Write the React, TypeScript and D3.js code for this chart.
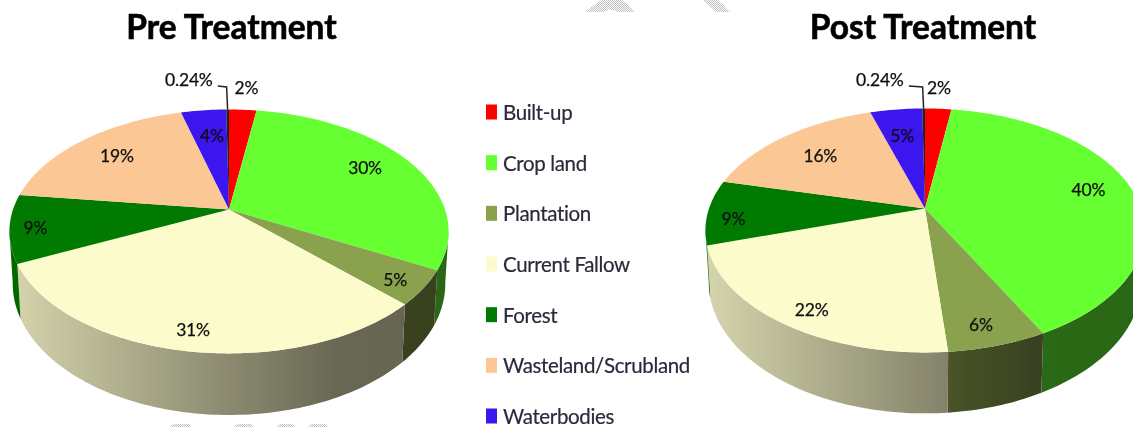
import { useMemo } from 'react';
import * as d3 from 'd3';

const WIDTH = 1133;
const HEIGHT = 427;

const categories = ['Built-up', 'Crop land', 'Plantation', 'Current Fallow', 'Forest', 'Wasteland/Scrubland', 'Waterbodies'];
const colors = ['#FF0000', '#66FF33', '#8AA24E', '#FCFBCC', '#007A00', '#FBC795', '#3A12EE', '#222222'];

// last value is the unnamed 0.24% sliver, it has no legend entry
const preValues = [2.4, 30.4, 4.6, 30.6, 9, 18.8, 3.96, 0.24];
const postValues = [2.3, 40.1, 6.2, 21.6, 8.6, 16.4, 4.56, 0.24];

// label nudges from the default spot inside each slice
const preNudges = [[6, -40], [-9, -2], [14, 9], [-2, 12], [-19, 3], [7, 3], [4, 8], [-39, -47]];
const postNudges = [[3, -39], [-3, -4], [0, 11], [-4, 12], [-18, 7], [10, 6], [1, 9], [-44, -46]];

// bits of the page watermark that show through at the edges
const watermarkPaths = [
  'M585,12 L598,2 L602,0 L622,0 L628,5 L635,12 L618,12 L610,9 L603,12 Z',
  'M703,0 L718,0 L730,12 L716,12 Z',
  'M170,427 L173,424 L189,424 L191,427 Z',
  'M234,427 L237,424 L251,424 L254,427 Z',
  'M277,427 L279,424 L292,424 L295,427 Z',
  'M308,427 L311,424 L326,424 L328,427 Z',
];

const FONT = 'Lato, "Open Sans", sans-serif';

// perspective of the tilted disc
const RX = 216;
const RY = 118;
const TILT = 0.18;
const BOTTOM_SCALE = 0.985;
const WALL_FROM = (100 * Math.PI) / 180;
const WALL_TO = (260 * Math.PI) / 180;

const wallShade: [number, number][] = [[0, 0.85], [0.25, 0.7], [0.5, 0.55], [0.75, 0.41], [1, 0.4]];

const pieLayout = d3.pie<number>().sort(null).startAngle(0).endAngle(2 * Math.PI);
const labelFormat = (v: number) => (v < 1 ? d3.format('.2f')(v) : d3.format('.0f')(v)) + '%';

function makeProjection(cx: number, cy: number, depth: number) {
  const top = (a: number, r = 1): [number, number] => {
    const u = r * Math.sin(a);
    const v = -r * Math.cos(a);
    const w = 1 - TILT * v;
    return [cx + (RX * u) / w, cy + (RY * v) / w];
  };
  const bottom = (a: number): [number, number] => {
    const u = Math.sin(a);
    const v = -Math.cos(a);
    const w = 1 - TILT * v;
    return [cx + (BOTTOM_SCALE * RX * u) / w, cy + (RY * v + depth) / w];
  };
  return { top, bottom };
}

const line = d3.line<[number, number]>();

function sweep(a0: number, a1: number) {
  const n = Math.max(2, Math.ceil((a1 - a0) / 0.02));
  return d3.range(n + 1).map(i => a0 + ((a1 - a0) * i) / n);
}

function Pie3D({ id, title, values, nudges, cx, cy, depth, titleX, titleY }: any) {
  const arcs = useMemo(() => pieLayout(values), [values]);
  const { top, bottom } = makeProjection(cx, cy, depth);
  const shadeX = d3.scaleLinear().domain([cx - 220, cx + 220]).range([0, 1]);

  const walls = arcs
    .map((d, i) => ({ i, a0: Math.max(d.startAngle, WALL_FROM), a1: Math.min(d.endAngle, WALL_TO) }))
    .filter(d => d.a1 > d.a0);

  return (
    <g>
      <defs>
        {walls.map(w => (
          <linearGradient key={w.i} id={`${id}-wall-${w.i}`} gradientUnits="userSpaceOnUse"
            x1={shadeX.invert(0)} x2={shadeX.invert(1)} y1={0} y2={0}>
            {wallShade.map(([o, k]) => (
              <stop key={o} offset={o} stopColor={d3.interpolateRgb('#000', colors[w.i])(k)} />
            ))}
          </linearGradient>
        ))}
      </defs>

      {walls.map(w => {
        const angles = sweep(w.a0, w.a1);
        const pts = [...angles.map(a => top(a)), ...angles.slice().reverse().map(a => bottom(a))];
        return <path key={w.i} d={line(pts) + 'Z'} fill={`url(#${id}-wall-${w.i})`} />;
      })}

      {arcs.map((d, i) => {
        const pts = [top(0, 0), ...sweep(d.startAngle, d.endAngle).map(a => top(a))];
        return <path key={i} d={line(pts) + 'Z'} fill={colors[i]} />;
      })}

      {arcs.map((d, i) => {
        const [x, y] = top((d.startAngle + d.endAngle) / 2, 0.8);
        return (
          <text key={i} x={x + nudges[i][0]} y={y + nudges[i][1]} textAnchor="middle" dominantBaseline="central"
            fontFamily={FONT} fontSize={17.5} letterSpacing={-0.2} fill="#111" stroke="#111" strokeWidth={0.25}>
            {labelFormat(values[i])}
          </text>
        );
      })}

      {(() => {
        const sliver = arcs[arcs.length - 1];
        const [rx, ry] = top((sliver.startAngle + sliver.endAngle) / 2);
        const [ax, ay] = top((sliver.startAngle + sliver.endAngle) / 2, 0.8);
        const n = nudges[nudges.length - 1];
        const elbow: [number, number] = [rx - 1, ay + n[1] + 7];
        const end: [number, number] = [ax + n[0] + 29, ay + n[1] + 6];
        return <path d={line([[rx, ry], elbow, end]) as string} fill="none" stroke="#222" strokeWidth={1.5} />;
      })()}

      <text x={titleX} y={titleY} textAnchor="middle" fontFamily={FONT} fontWeight={700} fontSize={33.5}
        fill="#000" stroke="#000" strokeWidth={0.6}>
        {title}
      </text>
    </g>
  );
}

export default function App() {
  const legendY = d3.scalePoint<string>().domain(categories).range([112, 416]);

  return (
    <svg width={WIDTH} height={HEIGHT} viewBox={`0 0 ${WIDTH} ${HEIGHT}`}
      style={{ position: 'absolute', left: 0, top: 0, display: 'block', background: '#fff' }}>
      <defs>
        <filter id="soft" x="-5%" y="-5%" width="110%" height="110%">
          <feGaussianBlur stdDeviation="0.75" />
        </filter>
        <pattern id="hatch" width={2} height={2} patternUnits="userSpaceOnUse">
          <rect width={2} height={2} fill="#fff" />
          <rect width={1} height={1} fill="#bdbdbd" />
          <rect x={1} y={1} width={1} height={1} fill="#bdbdbd" />
        </pattern>
      </defs>

      {watermarkPaths.map(d => <path key={d} d={d} fill="url(#hatch)" />)}

      <g filter="url(#soft)">
        <Pie3D id="pre" title="Pre Treatment" values={preValues} nudges={preNudges}
          cx={229} cy={209.5} depth={50.5} titleX={231.5} titleY={39} />
        <Pie3D id="post" title="Post Treatment" values={postValues} nudges={postNudges}
          cx={925} cy={208.5} depth={50} titleX={923} titleY={39} />

        {categories.map((c, i) => (
          <g key={c}>
            <rect x={486} y={legendY(c)! - 7.5} width={11} height={15} fill={colors[i]} />
            <text x={503} y={legendY(c)!} dominantBaseline="central" fontFamily={FONT} fontSize={20.5}
              letterSpacing={-0.35} fill="#2a2a3a" stroke="#2a2a3a" strokeWidth={0.2}>
              {c}
            </text>
          </g>
        ))}
      </g>
    </svg>
  );
}
